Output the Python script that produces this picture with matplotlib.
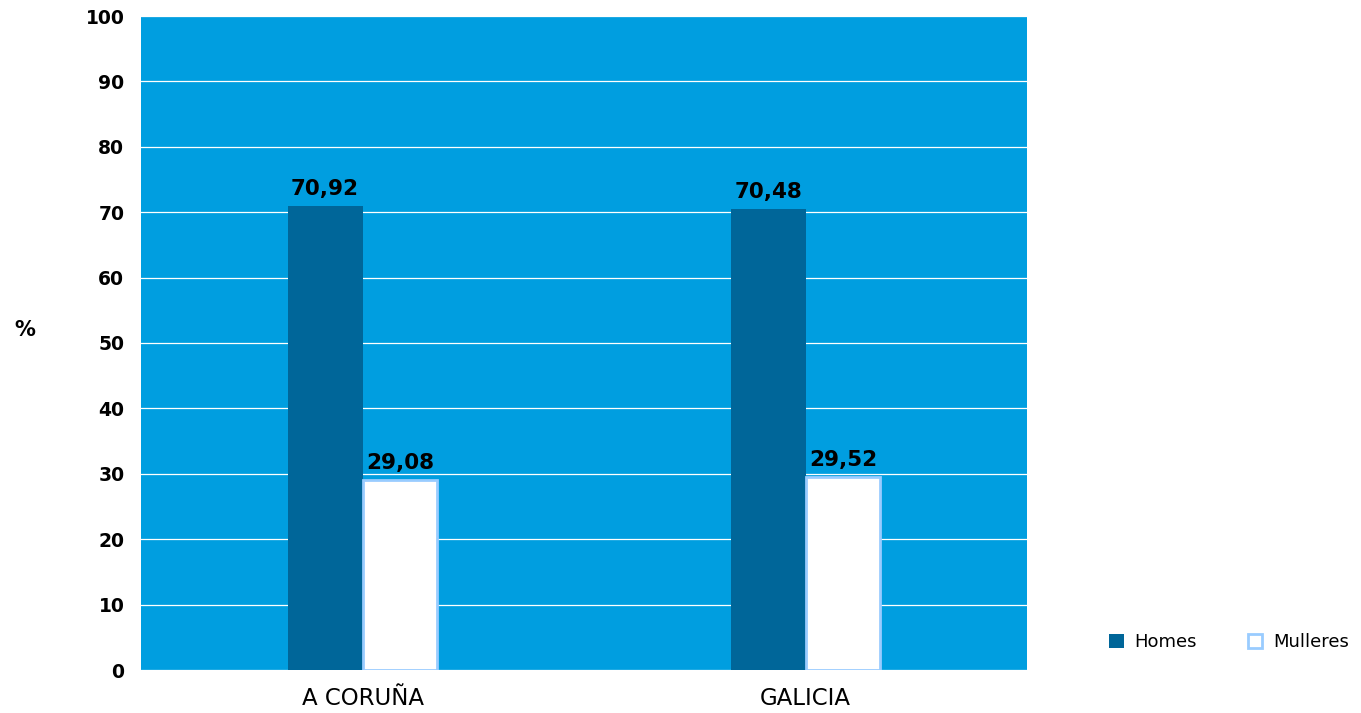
import matplotlib
matplotlib.use("Agg")
import matplotlib.pyplot as plt
import numpy as np

categories = ["A CORUÑA", "GALICIA"]
homes = [70.92, 70.48]
mulleres = [29.08, 29.52]
series_names = ["Homes", "Mulleres"]
yticks = list(range(0, 101, 10))

plt.rcParams['font.family'] = ['DejaVu Sans']
fig = plt.figure(figsize=(13.61, 7.13), dpi=100)
ax = fig.add_axes([141/1361, 1-670/713, (1027-141)/1361, (670-16)/713])
ax.set_facecolor("#009EE0")

x = np.array([0.5, 1.5])
w = 0.169
b1 = ax.bar(x - w/2, homes, w, color="#006699", label=series_names[0], zorder=3)
b2 = ax.bar(x + w/2, mulleres, w, color="white", edgecolor="#99CCFF", linewidth=2, label=series_names[1], zorder=3)

for bars, vals in ((b1, homes), (b2, mulleres)):
    for r, v in zip(bars, vals):
        ax.text(r.get_x() + r.get_width()/2, v + 1.1, f"{v:.2f}".replace(".", ","),
                ha="center", va="bottom", fontsize=15.5, fontweight="bold", zorder=4)

ax.set_xlim(0, 2)
ax.set_ylim(0, 100)
ax.set_yticks(yticks)
ax.set_yticklabels([str(t) for t in yticks], fontsize=13.5, fontweight="bold")
ax.set_xticks(x)
ax.set_xticklabels(categories, fontsize=16.5)
ax.tick_params(axis="y", length=0, pad=12)
ax.tick_params(axis="x", length=0, pad=12)
ax.yaxis.grid(True, color="white", linewidth=0.9, zorder=1)
ax.set_axisbelow(True)
for s in ax.spines.values():
    s.set_visible(False)

fig.text(25/1361, 1-330/713, "%", fontsize=15, fontweight="bold", ha="center", va="center")

fig.legend(handles=[b1, b2], labels=series_names, loc="center left",
           bbox_to_anchor=(1093/1361, 1-642/713), ncol=2, frameon=False,
           fontsize=13, handlelength=0.8, handleheight=0.8, columnspacing=2.8, handletextpad=0.6)

fig.savefig("out.png", dpi=100)
